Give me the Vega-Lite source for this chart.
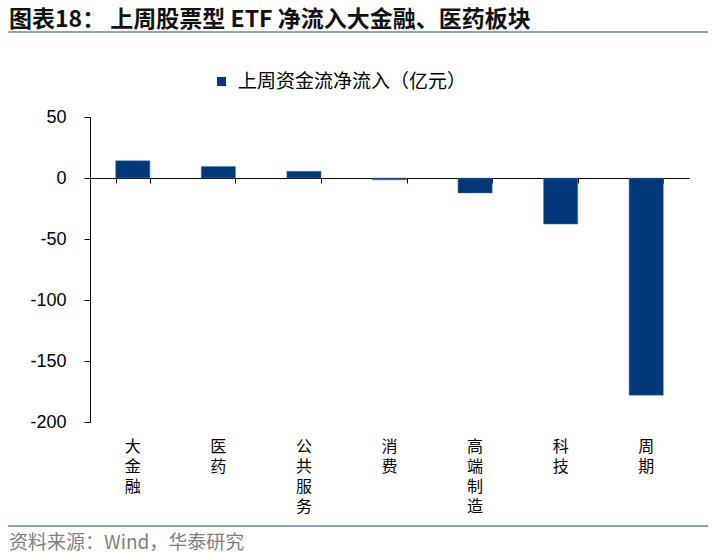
{
  "$schema": "https://vega.github.io/schema/vega-lite/v6.json",
  "background": "white",
  "padding": {"left": 8, "right": 8, "top": 8, "bottom": 0},
  "config": {
    "view": {"stroke": null},
    "font": "Noto Sans CJK SC"
  },
  "spacing": 33,
  "resolve": {"legend": {"color": "independent"}},
  "vconcat": [
    {
      "width": 698,
      "height": 0.01,
      "title": {
        "text": "图表18：  上周股票型 ETF 净流入大金融、医药板块",
        "anchor": "start",
        "frame": "group",
        "fontSize": 23,
        "fontWeight": "bold",
        "font": "Noto Sans CJK SC",
        "color": "#111111",
        "offset": -6
      },
      "view": {"stroke": "#8FA3BB", "strokeWidth": 2},
      "data": {"values": [{"t": ""}]},
      "mark": {"type": "text"},
      "encoding": {"text": {"field": "t"}}
    },
    {
      "spacing": 5,
      "resolve": {"legend": {"color": "independent"}},
      "vconcat": [
        {
          "spacing": 0,
          "resolve": {"legend": {"color": "independent"}},
          "hconcat": [
            {
              "width": 0.01,
              "height": 305,
              "data": {"values": [{"t": ""}]},
              "mark": {"type": "text"},
              "encoding": {"text": {"field": "t"}}
            },
            {
              "width": 599,
              "height": 305,
              "data": {
                "values": [
                  {"sector": "大金融", "flow": 14.2},
                  {"sector": "医药", "flow": 9.5},
                  {"sector": "公共服务", "flow": 5.5},
                  {"sector": "消费", "flow": -1.5},
                  {"sector": "高端制造", "flow": -12.3},
                  {"sector": "科技", "flow": -37.8},
                  {"sector": "周期", "flow": -178}
                ]
              },
              "resolve": {"axis": {"x": "independent"}},
              "layer": [
                {
                  "mark": {"type": "bar", "stroke": "#5a7fae", "strokeWidth": 0.5},
                  "encoding": {
                    "x": {
                      "field": "sector",
                      "type": "nominal",
                      "sort": null,
                      "scale": {"paddingInner": 0.6, "paddingOuter": 0.3},
                      "axis": {
                        "title": null,
                        "domain": false,
                        "ticks": false,
                        "labelAngle": 0,
                        "labelBaseline": "top",
                        "labelPadding": 16,
                        "labelFontSize": 16,
                        "labelLineHeight": 20,
                        "labelColor": "#000000",
                        "labelFont": "Noto Sans CJK SC",
                        "labelExpr": "split(datum.label, '')"
                      }
                    },
                    "y": {
                      "field": "flow",
                      "type": "quantitative",
                      "scale": {"domain": [-200, 50], "nice": false},
                      "axis": {
                        "title": null,
                        "grid": false,
                        "values": [-200, -150, -100, -50, 0, 50],
                        "labelExpr": "replace(datum.label, '−', '-')",
                        "domainColor": "#000000",
                        "tickColor": "#000000",
                        "tickSize": 6,
                        "labelPadding": 18,
                        "labelFontSize": 18,
                        "labelFont": "Liberation Sans",
                        "labelColor": "#000000",
                        "minExtent": 80
                      }
                    },
                    "color": {
                      "datum": "上周资金流净流入（亿元）",
                      "type": "nominal",
                      "scale": {"range": ["#003778"]},
                      "legend": {
                        "title": null,
                        "orient": "none",
                        "legendX": 122,
                        "legendY": -45,
                        "symbolType": "square",
                        "symbolSize": 81,
                        "symbolStrokeWidth": 0,
                        "labelFontSize": 19,
                        "labelLimit": 400,
                        "labelColor": "#000000",
                        "labelFont": "Noto Sans CJK SC",
                        "labelOffset": 7
                      }
                    }
                  }
                },
                {
                  "mark": {"type": "bar", "opacity": 0},
                  "encoding": {
                    "x": {
                      "field": "sector",
                      "type": "nominal",
                      "sort": null,
                      "axis": {
                        "orient": "bottom",
                        "offset": -244,
                        "title": null,
                        "labels": false,
                        "domain": true,
                        "domainColor": "#000000",
                        "ticks": true,
                        "tickColor": "#000000",
                        "tickSize": 5,
                        "tickBand": "extent"
                      }
                    },
                    "y": {"field": "flow", "type": "quantitative"}
                  }
                }
              ]
            }
          ]
        },
        {
          "width": 698,
          "height": 0.01,
          "title": {
            "text": "资料来源：Wind，华泰研究",
            "orient": "bottom",
            "anchor": "start",
            "frame": "group",
            "fontSize": 19,
            "fontWeight": "normal",
            "font": "Noto Sans CJK SC",
            "color": "#7F7F7F",
            "offset": 3
          },
          "view": {"stroke": "#8FA3BB", "strokeWidth": 2},
          "data": {"values": [{"t": ""}]},
          "mark": {"type": "text"},
          "encoding": {"text": {"field": "t"}}
        }
      ]
    }
  ]
}
